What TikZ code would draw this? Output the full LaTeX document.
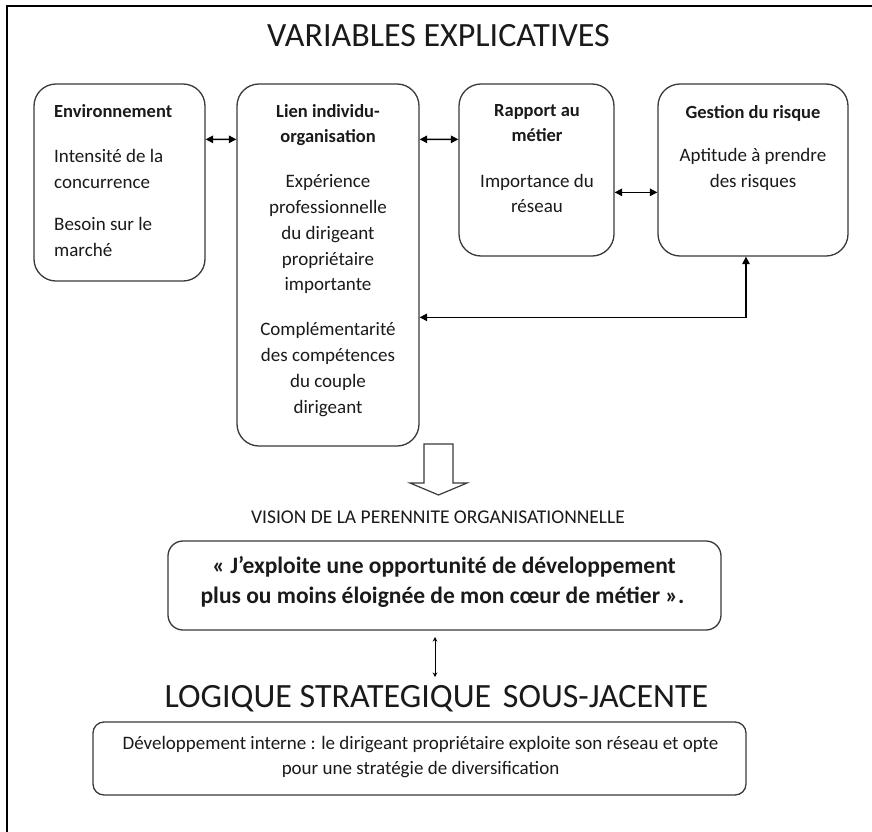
\documentclass[tikz,border=0pt]{standalone}
\usepackage{fontspec}
\setmainfont{Carlito}
\usetikzlibrary{arrows.meta}
\definecolor{ink}{HTML}{1A1A1A}
\definecolor{boxline}{HTML}{3A3A3A}
\begin{document}
\begin{tikzpicture}[x=1bp,y=-1bp,
  box/.style={draw=boxline, line width=1.3bp, fill=white, rounded corners=22bp, inner sep=0pt},
  txt/.style={inner sep=0pt, text=ink, font=\fontsize{19bp}{26bp}\selectfont, anchor=base},
  txtl/.style={txt, anchor=base west},
  hd/.style={txt, font=\fontsize{18.5bp}{26bp}\selectfont\bfseries},
  hdl/.style={hd, anchor=base west},
  link/.style={line width=1.3bp, draw=black, {Triangle[length=7.5bp,width=7.5bp]}-{Triangle[length=7.5bp,width=7.5bp]}},
  thinlink/.style={line width=0.9bp, draw=black, {Stealth[length=4.5bp,width=4.5bp]}-{Stealth[length=4.5bp,width=4.5bp]}},
  frame/.style={line width=2bp, draw=black, line join=miter}
]
\useasboundingbox (0,0) rectangle (872,832);
\fill[white] (0,0) rectangle (872,832);
\draw[frame] (7,840) -- (7,6) -- (880,6);

% title
\node[txt, font=\fontsize{34bp}{40bp}\selectfont] (title) at (438.5,46) {VARIABLES EXPLICATIVES};

% boxes
\node[box, minimum width=171bp, minimum height=197bp] (env) at (119.5,182.5) {};
\node[box, minimum width=182bp, minimum height=362bp] (lien) at (328,265) {};
\node[box, minimum width=155bp, minimum height=172bp] (rapport) at (536.5,170) {};
\node[box, minimum width=190bp, minimum height=172bp] (gestion) at (753,170) {};

% env text
\node[hdl] (e1) at (54,117) {Environnement};
\node[txtl] (e2) at (54,162) {Intensité de la};
\node[txtl] (e3) at (54,188) {concurrence};
\node[txtl] (e4) at (54,230) {Besoin sur le};
\node[txtl] (e5) at (54,256) {marché};

% lien text
\node[hd] (l1) at (328,117) {Lien individu-};
\node[hd] (l2) at (328,142) {organisation};
\node[txt] (l3) at (328,187) {Expérience};
\node[txt] (l4) at (328,213) {professionnelle};
\node[txt] (l5) at (328,239) {du dirigeant};
\node[txt] (l6) at (328,265) {propriétaire};
\node[txt] (l7) at (328,290) {importante};
\node[txt] (l8) at (328,335) {Complémentarité};
\node[txt] (l9) at (328,361) {des compétences};
\node[txt] (l10) at (328,387) {du couple};
\node[txt] (l11) at (328,413) {dirigeant};

% rapport text
\node[hd] (r1) at (537,116) {Rapport au};
\node[hd] (r2) at (537,141) {métier};
\node[txt] (r3) at (537,187) {Importance du};
\node[txt] (r4) at (537,212) {réseau};

% gestion text
\node[hd] (g1) at (753,118) {Gestion du risque};
\node[txt] (g2) at (753,161) {Aptitude à prendre};
\node[txt] (g3) at (753,187) {des risques};

% links
\draw[link] ([yshift=-56bp]env.north east) -- ([yshift=-56bp]lien.north west);
\draw[link] ([yshift=-56bp]lien.north east) -- ([yshift=-56bp]rapport.north west);
\draw[link] ([yshift=-109bp]rapport.north east) -- ([yshift=-109bp]gestion.north west);
\draw[link] ([xshift=-7bp]gestion.south) |- ([yshift=-234bp]lien.north east);

% hollow arrow
\draw[draw=boxline, line width=1.2bp, fill=white, line join=miter]
  (424,444) -- (424,483) -- (410,483) -- (438.5,495) -- (467,483) -- (453,483) -- (453,444) -- cycle;

% vision
\node[txt, font=\fontsize{19.5bp}{26bp}\selectfont] (vision) at (438,523) {VISION DE LA PERENNITE ORGANISATIONNELLE};

% quote box
\node[box, rounded corners=15bp, minimum width=553bp, minimum height=89bp] (quote) at (444.5,585.5) {};
\node[txt, font=\fontsize{23.5bp}{30bp}\selectfont\bfseries] (q1) at (444,573) {« J’exploite une opportunité de développement};
\node[txt, font=\fontsize{23.5bp}{30bp}\selectfont\bfseries] (q2) at (442.5,603) {plus ou moins éloignée de mon cœur de métier ».};

% small double arrow
\coordinate (qa) at (435,637);
\coordinate (qb) at (435,677);
\draw[thinlink] (qa) -- (qb);

% logique title
\node[txt, font=\fontsize{34bp}{40bp}\selectfont] (logique) at (436.5,707) {LOGIQUE STRATEGIQUE\hspace{0.12em} SOUS-JACENTE};

% bottom box
\node[box, rounded corners=11bp, minimum width=653bp, minimum height=73bp] (bottom) at (419.5,758.5) {};
\node[txt] (b1) at (420.5,749) {Développement interne : le dirigeant propriétaire exploite son réseau et opte};
\node[txt] (b2) at (420.5,774) {pour une stratégie de diversification};
\end{tikzpicture}
\end{document}
